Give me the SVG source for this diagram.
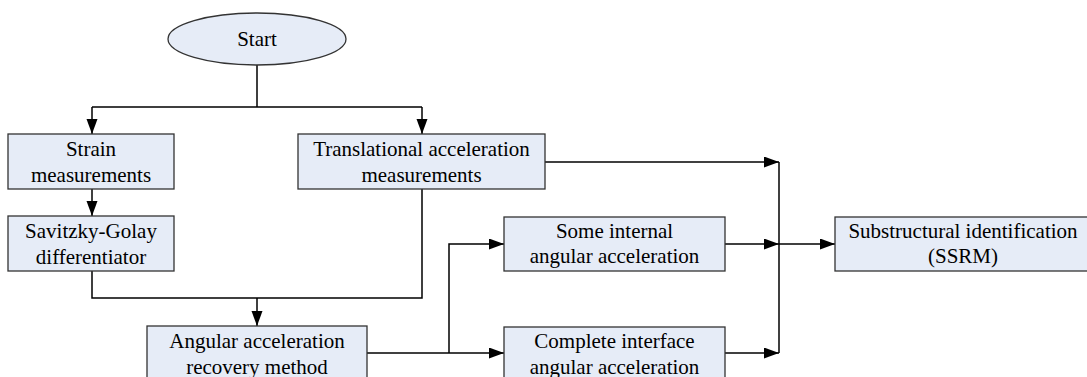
<svg xmlns="http://www.w3.org/2000/svg" width="1087" height="377" viewBox="0 0 1087 377">
<defs>
<marker id="arr" markerUnits="userSpaceOnUse" markerWidth="16" markerHeight="12" refX="15" refY="5.5" orient="auto">
<path d="M0,0 L15,5.5 L0,11 z" fill="#000"/>
</marker>
<style>
.box{fill:#E6ECF7;stroke:#333;stroke-width:1.3}
.t{font-family:"Liberation Serif","Times New Roman",serif;font-size:21px;fill:#000;text-anchor:middle}
.c{fill:none;stroke:#000;stroke-width:1.5}
.a{marker-end:url(#arr)}
</style>
</defs>
<rect width="1087" height="377" fill="#fff"/>
<g id="connectors">
<path class="c" d="M257,65 V107 M92,107 H422"/>
<path class="c a" d="M92,107 V134"/>
<path class="c a" d="M422,107 V134"/>
<path class="c a" d="M92,189 V216"/>
<path class="c" d="M92,271 V298 H422 V189"/>
<path class="c a" d="M257,298 V326"/>
<path class="c a" d="M367,353 H504"/>
<path class="c a" d="M449,353 V244 H504"/>
<path class="c a" d="M545,162 H779"/>
<path class="c a" d="M725,244 H779"/>
<path class="c a" d="M725,353 H779"/>
<path class="c" d="M779,162 V353"/>
<path class="c a" d="M779,244 H835"/>
</g>
<g id="start">
<ellipse class="box" cx="257" cy="39" rx="89" ry="26"/>
<text class="t" x="257" y="46">Start</text>
</g>
<g id="strain">
<rect class="box" x="8" y="134" width="166" height="55"/>
<text class="t" x="91" y="156">Strain</text>
<text class="t" x="91" y="182">measurements</text>
</g>
<g id="translational">
<rect class="box" x="298" y="134" width="247" height="55"/>
<text class="t" x="421.5" y="156">Translational acceleration</text>
<text class="t" x="421.5" y="182">measurements</text>
</g>
<g id="savitzky">
<rect class="box" x="8" y="216" width="166" height="55"/>
<text class="t" x="91" y="238">Savitzky-Golay</text>
<text class="t" x="91" y="264">differentiator</text>
</g>
<g id="angular">
<rect class="box" x="147" y="326" width="220" height="56"/>
<text class="t" x="257" y="348">Angular acceleration</text>
<text class="t" x="257" y="374">recovery method</text>
</g>
<g id="internal">
<rect class="box" x="504" y="217" width="221" height="54"/>
<text class="t" x="614.5" y="238">Some internal</text>
<text class="t" x="614.5" y="263">angular acceleration</text>
</g>
<g id="interface">
<rect class="box" x="504" y="327" width="221" height="55"/>
<text class="t" x="614.5" y="348">Complete interface</text>
<text class="t" x="614.5" y="374">angular acceleration</text>
</g>
<g id="ssrm">
<rect class="box" x="835" y="217" width="257" height="54"/>
<text class="t" x="963" y="238">Substructural identification</text>
<text class="t" x="963" y="263">(SSRM)</text>
</g>
</svg>
